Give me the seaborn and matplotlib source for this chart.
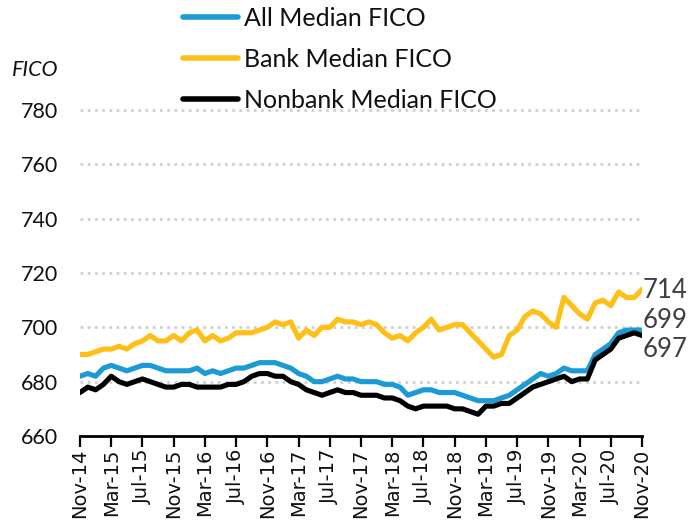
import matplotlib
matplotlib.use("Agg")
import matplotlib.pyplot as plt
from matplotlib.lines import Line2D
import seaborn as sns
import pandas as pd

# ---- data (monthly, Nov-14 .. Nov-20) ----
all_median = [682, 683, 682, 685, 686, 685, 684, 685, 686, 686,
              685, 684, 684, 684, 684, 685, 683, 684, 683, 684,
              685, 685, 686, 687, 687, 687, 686, 685, 683, 682,
              680, 680, 681, 682, 681, 681, 680,
              680, 680, 679, 679, 678, 675, 676, 677, 677, 676,
              676, 676, 675, 674, 673, 673, 673, 674, 675, 677,
              679, 681, 683, 682, 683, 685, 684, 684, 684, 690,
              692, 694, 698, 699, 699, 699]
bank_median = [690, 690, 691, 692, 692, 693, 692, 694, 695, 697,
               695, 695, 697, 695, 698, 699, 695, 697, 695, 696,
               698, 698, 698, 699, 700, 702, 701, 702, 696, 699,
               697, 700, 700, 703, 702, 702, 701,
               702, 701, 698, 696, 697, 695, 698, 700, 703, 699,
               700, 701, 701, 698, 695, 692, 689, 690, 697, 699,
               704, 706, 705, 702, 700, 711, 708, 705, 703, 709,
               710, 708, 713, 711, 711, 714]
nonbank_median = [676, 678, 677, 679, 682, 680, 679, 680, 681, 680,
                  679, 678, 678, 679, 679, 678, 678, 678, 678, 679,
                  679, 680, 682, 683, 683, 682, 682, 680, 679, 677,
                  676, 675, 676, 677, 676, 676, 675,
                  675, 675, 674, 674, 673, 671, 670, 671, 671, 671,
                  671, 670, 670, 669, 668, 671, 671, 672, 672, 674,
                  676, 678, 679, 680, 681, 682, 680, 681, 681, 688,
                  690, 692, 696, 697, 698, 697]

series_names = ["All Median FICO", "Bank Median FICO", "Nonbank Median FICO"]
series_colors = ["#1B9AD6", "#FFBF17", "#000000"]
tick_labels = ["Nov-14", "Mar-15", "Jul-15", "Nov-15", "Mar-16", "Jul-16", "Nov-16",
               "Mar-17", "Jul-17", "Nov-17", "Mar-18", "Jul-18", "Nov-18", "Mar-19",
               "Jul-19", "Nov-19", "Mar-20", "Jul-20", "Nov-20"]
y_ticks = [660, 680, 700, 720, 740, 760, 780]

n = len(all_median)
df = pd.DataFrame({
    "month": list(range(n)) * 3,
    "value": all_median + bank_median + nonbank_median,
    "series": [series_names[0]] * n + [series_names[1]] * n + [series_names[2]] * n,
})

sns.set_theme(style="white")
plt.rcParams["font.family"] = ["Lato", "DejaVu Sans"]

fig = plt.figure(figsize=(6.95, 5.27), dpi=100)
ax = fig.add_axes([80 / 695, (527 - 436) / 527, 562 / 695, (436 - 104.6) / 527])

sns.lineplot(data=df, x="month", y="value", hue="series", hue_order=series_names,
             palette=series_colors, linewidth=3.7, ax=ax, legend=False)

ax.set_xlim(0, n - 1)
ax.set_ylim(660, 782)
ax.set_yticks(y_ticks)
ax.set_yticklabels([str(v) for v in y_ticks], fontsize=15.5, color="#111111")
ax.tick_params(axis="y", length=0, pad=15.5)
ax.yaxis.grid(True, color="#cfcfcf", linestyle=(0, (1, 1.6)), linewidth=2)
ax.set_axisbelow(True)

ax.set_xticks(list(range(0, n, 4)))
ax.set_xticklabels(tick_labels, rotation=90, fontsize=14, family="DejaVu Sans",
                   color="#111111")
ax.tick_params(axis="x", direction="out", length=8, width=1.6, color="black",
               pad=1, bottom=True)
ax.set_xlabel("")
ax.set_ylabel("")

for s in ["left", "top", "right"]:
    ax.spines[s].set_visible(False)
ax.spines["bottom"].set_color("black")
ax.spines["bottom"].set_linewidth(2)

# end labels
label_pos = [702.7, 713.4, 692.0]
end_vals = [all_median[-1], bank_median[-1], nonbank_median[-1]]
for v, yp in zip(end_vals, label_pos):
    ax.text(n - 1 + 0.1, yp, str(v), ha="left", va="center", fontsize=18.5,
            color="#404040", clip_on=False)

fig.text(12 / 695, 1 - 70 / 527, "FICO", fontsize=15.5, style="italic",
         ha="left", va="center", color="#111111")

handles = [Line2D([0], [0], color=c, linewidth=4) for c in series_colors]
fig.legend(handles, series_names, loc="upper left",
           bbox_to_anchor=(183 / 695, 1 - 7 / 527), frameon=False, fontsize=18,
           handlelength=2.2, handletextpad=0.25, labelspacing=0.72,
           borderpad=0, borderaxespad=0, labelcolor="#111111")

fig.savefig("out.png", dpi=100)
